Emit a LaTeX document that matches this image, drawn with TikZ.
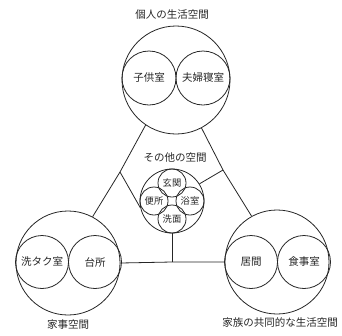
\documentclass[tikz,border=0pt]{standalone}
\usepackage{fontspec}
\newfontfamily\cjk{Noto Sans CJK JP}
\begin{document}
\begin{tikzpicture}[x=1pt,y=-1pt,
  ln/.style={draw=black!85,line width=0.8pt},
  lbl/.style={font=\cjk\fontsize{10.5}{12}\selectfont,text=black!85,inner sep=0pt},
  sml/.style={font=\cjk\fontsize{9.3}{10}\selectfont,text=black!85,inner sep=0pt}]
\useasboundingbox (0,0) rectangle (342,335);
% big circles
\node[ln,circle,minimum size=108pt,inner sep=0pt] (top) at (176,80) {};
\node[ln,circle,minimum size=104pt,inner sep=0pt] (left) at (68,263) {};
\node[ln,circle,minimum size=104pt,inner sep=0pt] (right) at (277,262) {};
\node[ln,circle,minimum size=64pt,inner sep=0pt] (mid) at (172,201) {};
% inner circles
\node[ln,circle,minimum size=54pt,inner sep=0pt,lbl] (kodomo) at (149,78) {子供室};
\node[ln,circle,minimum size=54pt,inner sep=0pt,lbl] (fufu) at (203,78) {夫婦寝室};
\node[ln,circle,minimum size=53pt,inner sep=0pt,lbl] (sentaku) at (42,262) {洗タク室};
\node[ln,circle,minimum size=53pt,inner sep=0pt,lbl] (daidokoro) at (95,262) {台所};
\node[ln,circle,minimum size=53pt,inner sep=0pt,lbl] (ima) at (251,262) {居間};
\node[ln,circle,minimum size=53pt,inner sep=0pt,lbl] (shokuji) at (304,262) {食事室};
\node[ln,circle,minimum size=28pt,inner sep=0pt,sml] (genkan) at (172,183) {玄関};
\node[ln,circle,minimum size=28pt,inner sep=0pt,sml] (benjo) at (154,201) {便所};
\node[ln,circle,minimum size=28pt,inner sep=0pt,sml] (yokushitsu) at (190,201) {浴室};
\node[ln,circle,minimum size=28pt,inner sep=0pt,sml] (senmen) at (172,219) {洗面};
% labels
\node[lbl] (t1) at (172,15) {個人の生活空間};
\node[lbl] (t2) at (175,158) {その他の空間};
\node[lbl] (t3) at (68,325) {家事空間};
\node[lbl] (t4) at (280,322) {家族の共同的な生活空間};
% junctions
\coordinate (jl) at (120,172);
\coordinate (jr) at (223,170);
\coordinate (jb) at (172,262);
% connectors
\draw[ln] (top.236) -- (jl) -- (left.62);
\draw[ln] (jl) -- (mid.192);
\draw[ln] (top.298) -- (jr) -- (right.119);
\draw[ln] (jr) -- (mid.32);
\draw[ln] (left.east) -- (jb) -- (right.west);
\draw[ln] (jb) -- (mid.south);
\end{tikzpicture}
\end{document}
